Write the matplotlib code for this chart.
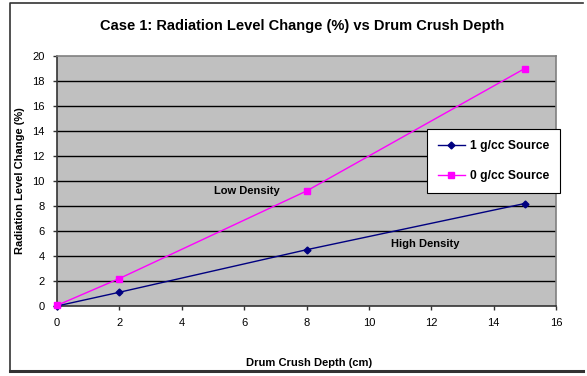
import matplotlib
matplotlib.use("Agg")
import matplotlib.pyplot as plt
from matplotlib.lines import Line2D

plt.rcParams['font.family'] = ['Liberation Sans', 'DejaVu Sans']

depth = [0, 2, 8, 15]
high_density = [0.0, 1.1, 4.5, 8.2]
low_density = [0.05, 2.2, 9.2, 19.0]
series_labels = ["1 g/cc Source", "0 g/cc Source"]
x_ticks = list(range(0, 17, 2))
y_ticks = list(range(0, 21, 2))

W, H = 587, 376
fig = plt.figure(figsize=(W / 100, H / 100), dpi=100)

# outer chart frame
frame = fig.add_axes([0, 0, 1, 1], zorder=-5)
frame.set_xlim(0, W)
frame.set_ylim(H, 0)
frame.axis("off")
frame.plot([10, 10, 583], [371, 3, 3], color="#333333", lw=1.2)
frame.plot([10, 583], [371, 371], color="#333333", lw=2.2)

left, right, top, bottom = 57, 556, 56, 306
ax = fig.add_axes([left / W, 1 - bottom / H, (right - left) / W, (bottom - top) / H])
ax.set_facecolor("#c0c0c0")
ax.set_xlim(0, 16)
ax.set_ylim(0, 20)
ax.set_xticks(x_ticks)
ax.set_yticks(y_ticks)
for y in y_ticks[1:-1]:
    ax.axhline(y, color="black", lw=1.0, zorder=1)
for s in ["top", "right"]:
    ax.spines[s].set_color("#808080")
    ax.spines[s].set_linewidth(1.2)
for s in ["left", "bottom"]:
    ax.spines[s].set_color("#333333")
    ax.spines[s].set_linewidth(1.2)
ax.tick_params(axis="both", labelsize=8, length=3, width=1, color="#333333", pad=6)

ax.plot(depth, high_density, color="#000080", lw=1, marker="D", ms=3.5, zorder=3, clip_on=False)
ax.plot(depth, low_density, color="#ff00ff", lw=1, marker="s", ms=4.5, zorder=4, clip_on=False)

fig.text(302 / W, 1 - 26 / H, "Case 1: Radiation Level Change (%) vs Drum Crush Depth",
         fontsize=10.5, fontweight="bold", ha="center", va="center")
fig.text(247 / W, 1 - 191 / H, "Low Density", fontsize=8, fontweight="bold",
         ha="center", va="center")
fig.text(425 / W, 1 - 244 / H, "High Density", fontsize=8, fontweight="bold",
         ha="center", va="center")
fig.text(309 / W, 1 - 363 / H, "Drum Crush Depth (cm)", fontsize=8, fontweight="bold",
         ha="center", va="center")
fig.text(20 / W, 1 - 181 / H, "Radiation Level Change (%)", fontsize=8, fontweight="bold",
         ha="center", va="center", rotation=90)

handles = [
    Line2D([], [], color="#000080", lw=1, marker="D", ms=3.5),
    Line2D([], [], color="#ff00ff", lw=1, marker="s", ms=4.5),
]
leg = fig.legend(handles, series_labels, loc="center",
                 bbox_to_anchor=(493.5 / W, 1 - 161 / H),
                 prop={"weight": "bold", "size": 8.7},
                 frameon=True, fancybox=False, labelspacing=1.5,
                 handlelength=2.2, borderpad=0.9, handletextpad=0.4)
leg.get_frame().set_edgecolor("black")
leg.get_frame().set_linewidth(0.8)
leg.get_frame().set_facecolor("white")
leg.get_frame().set_alpha(1)

fig.savefig("out.png", dpi=100)
